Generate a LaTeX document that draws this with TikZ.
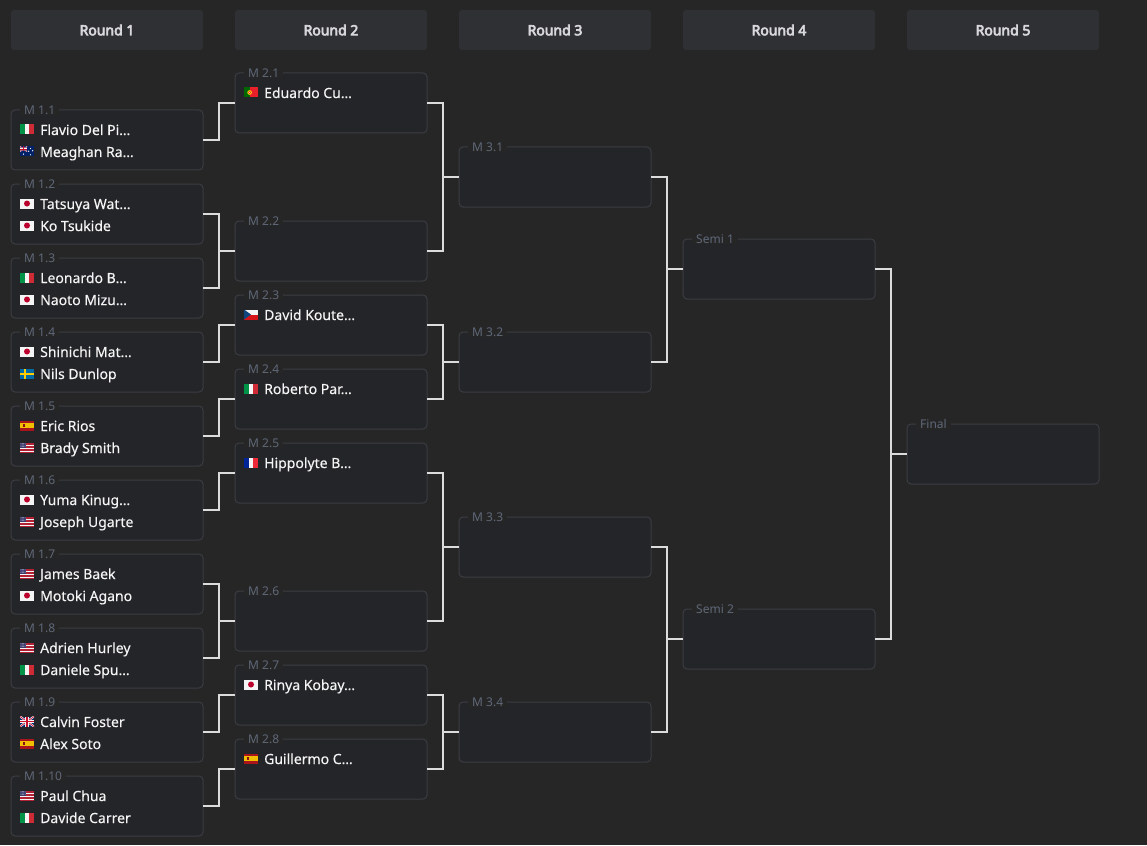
\documentclass[tikz,border=0pt]{standalone}
\usepackage{fontspec}
\setmainfont{Noto Sans}
\newfontfamily\hdrfont{Noto Sans}[FakeBold=4.5]
\newfontfamily\namefont{Noto Sans}[FakeBold=0.3]
\usetikzlibrary{calc}
\definecolor{bgcol}{HTML}{262626}
\definecolor{boxfill}{HTML}{242528}
\definecolor{boxline}{HTML}{3B3D42}
\definecolor{hdrfill}{HTML}{2F3034}
\definecolor{hdrtext}{HTML}{D8D8DC}
\definecolor{lblcol}{HTML}{5F6879}
\definecolor{namecol}{HTML}{F4F4F4}
\definecolor{conncol}{HTML}{DCDCDC}
\definecolor{flw}{HTML}{F4F4F4}
\definecolor{itg}{HTML}{009246}
\definecolor{itr}{HTML}{CE2B37}
\definecolor{frb}{HTML}{002395}
\definecolor{frr}{HTML}{ED2939}
\definecolor{jpr}{HTML}{BC002D}
\definecolor{seb}{HTML}{006AA7}
\definecolor{sey}{HTML}{FECC00}
\definecolor{esr}{HTML}{AA151B}
\definecolor{esy}{HTML}{F1BF00}
\definecolor{czr}{HTML}{D7141A}
\definecolor{czb}{HTML}{11457E}
\definecolor{ptg}{HTML}{006600}
\definecolor{ptr}{HTML}{E8202A}
\definecolor{pty}{HTML}{FFE000}
\definecolor{usr}{HTML}{B22234}
\definecolor{usb}{HTML}{3C3B6E}
\definecolor{gbb}{HTML}{012169}
\definecolor{gbr}{HTML}{C8102E}
\newcommand\FlagIT{\fill[itg](0,0)rectangle(4.67,10);\fill[flw](4.67,0)rectangle(9.33,10);\fill[itr](9.33,0)rectangle(14,10);}
\newcommand\FlagFR{\fill[frb](0,0)rectangle(4.67,10);\fill[flw](4.67,0)rectangle(9.33,10);\fill[frr](9.33,0)rectangle(14,10);}
\newcommand\FlagJP{\fill[flw](0,0)rectangle(14,10);\fill[jpr](7,5)circle(3);}
\newcommand\FlagSE{\fill[seb](0,0)rectangle(14,10);\fill[sey](0,4)rectangle(14,6);\fill[sey](4,0)rectangle(6.2,10);}
\newcommand\FlagES{\fill[esr](0,0)rectangle(14,10);\fill[esy](0,2.5)rectangle(14,7.5);\fill[esr!80!black](3,3.6)rectangle(5,6.4);}
\newcommand\FlagCZ{\fill[flw](0,0)rectangle(14,5);\fill[czr](0,5)rectangle(14,10);\fill[czb](0,0)--(7,5)--(0,10)--cycle;}
\newcommand\FlagPT{\fill[ptg](0,0)rectangle(5.6,10);\fill[ptr](5.6,0)rectangle(14,10);\fill[pty](5.6,5)circle(2.3);\fill[ptr](5.6,5)circle(1.4);\fill[flw](5.6,5)circle(0.6);}
\newcommand\FlagUS{\fill[flw](0,0)rectangle(14,10);\foreach \i in {0,2,...,12}{\fill[usr](0,\i*10/13)rectangle(14,\i*10/13+10/13);}\fill[usb](0,0)rectangle(6,5.4);\foreach \a in {1,2.4,3.8,5.1}{\foreach \b in {1,2.5,4}{\fill[flw!75!usb](\a,\b)circle(0.35);}}}
\newcommand\FlagGB{\begin{scope}\clip(0,0)rectangle(14,10);\fill[gbb](0,0)rectangle(14,10);\draw[flw,line width=2pt](0,0)--(14,10)(0,10)--(14,0);\draw[gbr,line width=0.7pt](0,0)--(14,10)(0,10)--(14,0);\draw[flw,line width=3.2pt](7,0)--(7,10)(0,5)--(14,5);\draw[gbr,line width=1.8pt](7,0)--(7,10)(0,5)--(14,5);\end{scope}}
\newcommand\FlagAU{\fill[gbb](0,0)rectangle(14,10);\begin{scope}\clip(0,0)rectangle(7,5);\draw[flw,line width=1pt](0,0)--(7,5)(0,5)--(7,0);\draw[gbr,line width=0.4pt](0,0)--(7,5)(0,5)--(7,0);\draw[flw,line width=1.6pt](3.5,0)--(3.5,5)(0,2.5)--(7,2.5);\draw[gbr,line width=0.9pt](3.5,0)--(3.5,5)(0,2.5)--(7,2.5);\end{scope}\foreach \p in {(3.5,7.6),(10.5,2),(12.6,4.3),(8.6,4.8),(10.5,8.3)}{\fill[flw]\p circle(0.7);}}
\tikzset{
  matchbox/.style={draw=boxline,fill=boxfill,rounded corners=4pt,line width=1pt,minimum width=192pt,minimum height=60pt,inner sep=0pt,outer sep=0pt,anchor=north west},
  hdr/.style={fill=hdrfill,rounded corners=3pt,minimum width=192pt,minimum height=40pt,inner sep=0pt,outer sep=0pt,anchor=north west,text=hdrtext,font=\hdrfont\fontsize{14}{16}\selectfont},
  lbl/.style={anchor=west,fill=bgcol,inner xsep=4pt,inner ysep=1pt,text=lblcol,font=\fontsize{12}{14}\selectfont},
  pname/.style={anchor=base west,inner sep=0pt,text=namecol,font=\namefont\fontsize{14}{16}\selectfont},
  conn/.style={draw=conncol,line width=1.3pt}
}
\newcommand\plr[4]{%
  \begin{scope}[shift={($(#1.north west)+(9,{14.5+22*(#2-1)})$)}]\csname Flag#3\endcsname\end{scope}
  \node[pname] (#1p#2) at ($(#1.north west)+(29,{25+22*(#2-1)})$) {#4};}
\newcommand\match[4]{%
  \node[matchbox] (#1) at (#2,#3) {};
  \node[lbl] (#1l) at ([xshift=9pt]#1.north west) {#4};}
\begin{document}
\begin{tikzpicture}[x=1pt,y=-1pt]
\fill[bgcol] (0,0) rectangle (1147,845);
\useasboundingbox (0,0) rectangle (1147,845);
% headers
\node[hdr] (h1) at (11,10) {Round 1};
\node[hdr] (h2) at (235,10) {Round 2};
\node[hdr] (h3) at (459,10) {Round 3};
\node[hdr] (h4) at (683,10) {Round 4};
\node[hdr] (h5) at (907,10) {Round 5};
% round 1
\match{m11}{11}{110}{M 1.1}
\match{m12}{11}{184}{M 1.2}
\match{m13}{11}{258}{M 1.3}
\match{m14}{11}{332}{M 1.4}
\match{m15}{11}{406}{M 1.5}
\match{m16}{11}{480}{M 1.6}
\match{m17}{11}{554}{M 1.7}
\match{m18}{11}{628}{M 1.8}
\match{m19}{11}{702}{M 1.9}
\match{m110}{11}{776}{M 1.10}
% round 2
\match{m21}{235}{73}{M 2.1}
\match{m22}{235}{221}{M 2.2}
\match{m23}{235}{295}{M 2.3}
\match{m24}{235}{369}{M 2.4}
\match{m25}{235}{443}{M 2.5}
\match{m26}{235}{591}{M 2.6}
\match{m27}{235}{665}{M 2.7}
\match{m28}{235}{739}{M 2.8}
% round 3
\match{m31}{459}{147}{M 3.1}
\match{m32}{459}{332}{M 3.2}
\match{m33}{459}{517}{M 3.3}
\match{m34}{459}{702}{M 3.4}
% round 4, 5
\match{s1}{683}{239}{Semi 1}
\match{s2}{683}{609}{Semi 2}
\match{fin}{907}{424}{Final}
% players
\plr{m11}{1}{IT}{Flavio Del Pi…}
\plr{m11}{2}{AU}{Meaghan Ra…}
\plr{m12}{1}{JP}{Tatsuya Wat…}
\plr{m12}{2}{JP}{Ko Tsukide}
\plr{m13}{1}{IT}{Leonardo B…}
\plr{m13}{2}{JP}{Naoto Mizu…}
\plr{m14}{1}{JP}{Shinichi Mat…}
\plr{m14}{2}{SE}{Nils Dunlop}
\plr{m15}{1}{ES}{Eric Rios}
\plr{m15}{2}{US}{Brady Smith}
\plr{m16}{1}{JP}{Yuma Kinug…}
\plr{m16}{2}{US}{Joseph Ugarte}
\plr{m17}{1}{US}{James Baek}
\plr{m17}{2}{JP}{Motoki Agano}
\plr{m18}{1}{US}{Adrien Hurley}
\plr{m18}{2}{IT}{Daniele Spu…}
\plr{m19}{1}{GB}{Calvin Foster}
\plr{m19}{2}{ES}{Alex Soto}
\plr{m110}{1}{US}{Paul Chua}
\plr{m110}{2}{IT}{Davide Carrer}
\plr{m21}{1}{PT}{Eduardo Cu…}
\plr{m23}{1}{CZ}{David Koute…}
\plr{m24}{1}{IT}{Roberto Par…}
\plr{m25}{1}{FR}{Hippolyte B…}
\plr{m27}{1}{JP}{Rinya Kobay…}
\plr{m28}{1}{ES}{Guillermo C…}
% connectors round 1 -> 2
\draw[conn] (m11.east) -- ++(16,0) |- (m21.west);
\draw[conn] (m12.east) -- ++(16,0) |- (m22.west);
\draw[conn] (m13.east) -- ++(16,0) |- (m22.west);
\draw[conn] (m14.east) -- ++(16,0) |- (m23.west);
\draw[conn] (m15.east) -- ++(16,0) |- (m24.west);
\draw[conn] (m16.east) -- ++(16,0) |- (m25.west);
\draw[conn] (m17.east) -- ++(16,0) |- (m26.west);
\draw[conn] (m18.east) -- ++(16,0) |- (m26.west);
\draw[conn] (m19.east) -- ++(16,0) |- (m27.west);
\draw[conn] (m110.east) -- ++(16,0) |- (m28.west);
% round 2 -> 3
\draw[conn] (m21.east) -- ++(16,0) |- (m31.west);
\draw[conn] (m22.east) -- ++(16,0) |- (m31.west);
\draw[conn] (m23.east) -- ++(16,0) |- (m32.west);
\draw[conn] (m24.east) -- ++(16,0) |- (m32.west);
\draw[conn] (m25.east) -- ++(16,0) |- (m33.west);
\draw[conn] (m26.east) -- ++(16,0) |- (m33.west);
\draw[conn] (m27.east) -- ++(16,0) |- (m34.west);
\draw[conn] (m28.east) -- ++(16,0) |- (m34.west);
% round 3 -> 4
\draw[conn] (m31.east) -- ++(16,0) |- (s1.west);
\draw[conn] (m32.east) -- ++(16,0) |- (s1.west);
\draw[conn] (m33.east) -- ++(16,0) |- (s2.west);
\draw[conn] (m34.east) -- ++(16,0) |- (s2.west);
% round 4 -> 5
\draw[conn] (s1.east) -- ++(16,0) |- (fin.west);
\draw[conn] (s2.east) -- ++(16,0) |- (fin.west);
\end{tikzpicture}
\end{document}
